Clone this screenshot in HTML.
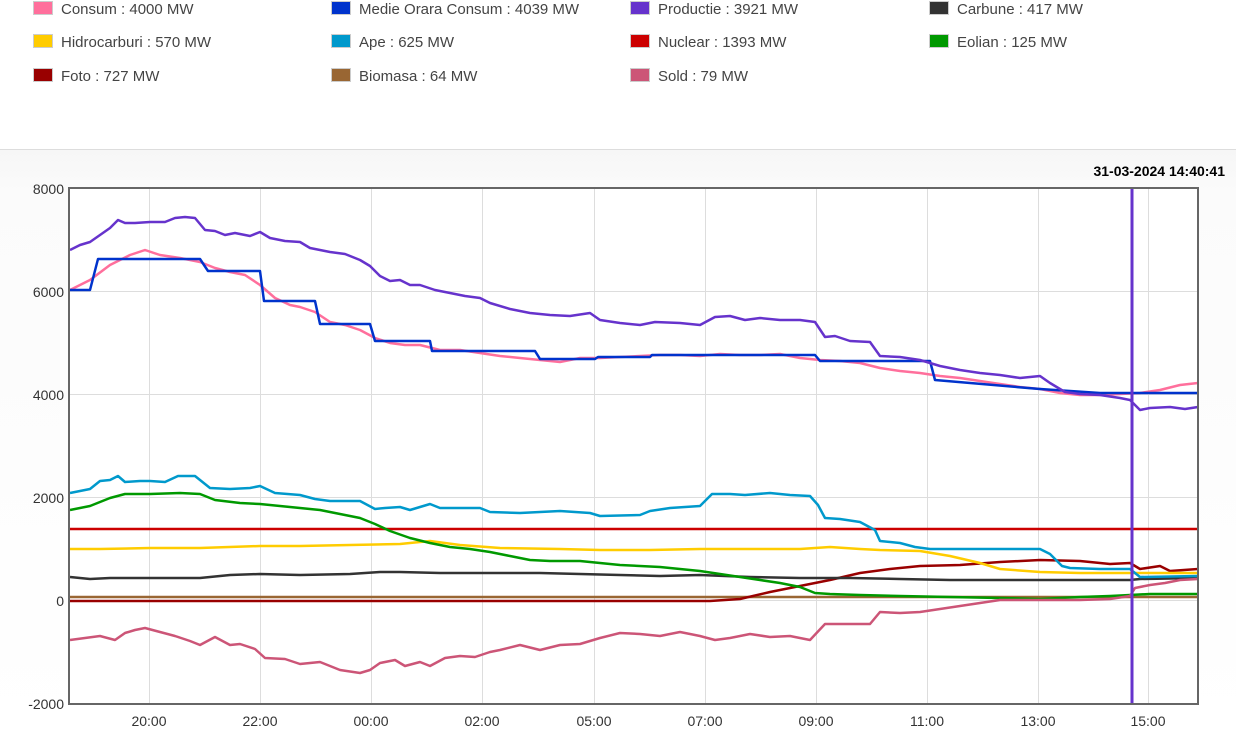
<!DOCTYPE html>
<html><head><meta charset="utf-8"><style>
body{margin:0;width:1236px;height:732px;overflow:hidden;background:#fff;font-family:"Liberation Sans",sans-serif;position:relative}
.lg{position:absolute;font-size:15px;color:#444;white-space:nowrap}
.lg i{display:inline-block;width:18px;height:12px;border:1px solid #ccc;vertical-align:-1px;margin-right:8px}
.panel{position:absolute;left:0;top:149px;width:1236px;height:583px;border-top:1px solid #ddd;background:linear-gradient(#f6f6f6,#fbfbfb 40px,#fff)}
</style></head><body>
<div class="lg" style="left:33px;top:1px"><i style="background:#ff6f9c"></i>Consum : 4000 MW</div>
<div class="lg" style="left:331px;top:1px"><i style="background:#0033cc"></i>Medie Orara Consum : 4039 MW</div>
<div class="lg" style="left:630px;top:1px"><i style="background:#6633cc"></i>Productie : 3921 MW</div>
<div class="lg" style="left:929px;top:1px"><i style="background:#333"></i>Carbune : 417 MW</div>
<div class="lg" style="left:33px;top:34px"><i style="background:#ffcc00"></i>Hidrocarburi : 570 MW</div>
<div class="lg" style="left:331px;top:34px"><i style="background:#0099cc"></i>Ape : 625 MW</div>
<div class="lg" style="left:630px;top:34px"><i style="background:#cc0000"></i>Nuclear : 1393 MW</div>
<div class="lg" style="left:929px;top:34px"><i style="background:#009900"></i>Eolian : 125 MW</div>
<div class="lg" style="left:33px;top:68px"><i style="background:#990000"></i>Foto : 727 MW</div>
<div class="lg" style="left:331px;top:68px"><i style="background:#996633"></i>Biomasa : 64 MW</div>
<div class="lg" style="left:630px;top:68px"><i style="background:#cc5577"></i>Sold : 79 MW</div>
<div class="panel"></div>
<svg style="position:absolute;left:0;top:0" width="1236" height="732" font-family="Liberation Sans,sans-serif">
<rect x="69" y="188" width="1129" height="516" fill="#fff"/>
<g stroke="#ddd" stroke-width="1">
<line x1="69" x2="1198" y1="291.5" y2="291.5"/><line x1="69" x2="1198" y1="394.5" y2="394.5"/><line x1="69" x2="1198" y1="497.5" y2="497.5"/><line x1="69" x2="1198" y1="600.5" y2="600.5"/>
<line x1="149.5" x2="149.5" y1="188" y2="704"/><line x1="260.5" x2="260.5" y1="188" y2="704"/><line x1="371.5" x2="371.5" y1="188" y2="704"/><line x1="482.5" x2="482.5" y1="188" y2="704"/><line x1="594.5" x2="594.5" y1="188" y2="704"/><line x1="705.5" x2="705.5" y1="188" y2="704"/><line x1="816.5" x2="816.5" y1="188" y2="704"/><line x1="927.5" x2="927.5" y1="188" y2="704"/><line x1="1038.5" x2="1038.5" y1="188" y2="704"/><line x1="1148.5" x2="1148.5" y1="188" y2="704"/>
</g>
<g font-size="14" fill="#333" text-anchor="end">
<text x="64" y="194">8000</text><text x="64" y="297">6000</text><text x="64" y="400">4000</text><text x="64" y="503">2000</text><text x="64" y="606">0</text><text x="64" y="709">-2000</text>
</g>
<g font-size="14" fill="#333" text-anchor="middle">
<text x="149" y="726">20:00</text><text x="260" y="726">22:00</text><text x="371" y="726">00:00</text><text x="482" y="726">02:00</text><text x="594" y="726">05:00</text><text x="705" y="726">07:00</text><text x="816" y="726">09:00</text><text x="927" y="726">11:00</text><text x="1038" y="726">13:00</text><text x="1148" y="726">15:00</text>
</g>
<text x="1225" y="176" font-size="14" font-weight="bold" text-anchor="end" fill="#000">31-03-2024 14:40:41</text>
<g fill="none" stroke-width="2.5" stroke-linejoin="round">
<polyline stroke="#cc0000" points="70,529 1198,529"/>
<polyline stroke="#996633" points="70,597 1198,597"/>
<polyline stroke="#990000" points="70,601 710,601 740,599 770,592 800,586 830,580 860,573 890,569 920,566 960,565 1000,562 1040,560 1080,561 1110,564 1130,563 1140,569 1160,566 1170,571 1198,569"/>
<polyline stroke="#333333" points="70,577 90,579 110,578 150,578 200,578 230,575 260,574 300,575 350,574 380,572 400,572 440,573 480,573 540,573 580,574 620,575 660,576 700,575 750,577 800,578 850,578 900,579 950,580 1000,580 1050,580 1100,580 1130,580 1140,579 1198,578"/>
<polyline stroke="#ffcc00" points="70,549 100,549 150,548 200,548 260,546 300,546 350,545 400,544 430,541 460,545 500,548 560,549 600,550 650,550 700,549 750,549 800,549 830,547 860,549 880,550 920,551 950,556 980,563 1000,569 1040,572 1080,573 1120,573 1198,573"/>
<polyline stroke="#009900" points="70,510 90,506 110,498 125,494 150,494 180,493 200,494 215,500 240,503 260,504 290,507 320,510 340,514 360,518 375,524 390,531 410,538 430,543 450,547 470,549 490,552 510,556 530,560 550,561 580,561 600,563 620,565 660,567 700,571 720,574 740,577 760,580 780,583 800,587 815,593 830,594 860,595 900,596 950,597 1000,598 1040,599 1080,597 1110,596 1130,595 1150,594 1198,594"/>
<polyline stroke="#0099cc" points="70,493 90,489 100,481 110,480 118,476 125,482 140,481 150,481 165,482 178,476 195,476 210,488 230,489 250,488 260,486 275,493 300,495 315,499 330,501 360,501 375,509 385,508 400,507 410,510 420,507 430,504 440,508 480,508 490,512 520,513 560,511 590,513 600,516 640,515 650,511 670,508 700,506 712,494 730,494 745,495 770,493 790,495 810,496 818,505 825,518 840,519 860,522 875,530 880,541 900,543 915,547 930,549 960,549 1000,549 1040,549 1050,554 1062,566 1070,568 1100,569 1130,569 1140,577 1198,576"/>
<polyline stroke="#cc5577" points="70,640 85,638 100,636 115,640 125,633 135,630 145,628 160,632 175,636 190,641 200,645 215,637 230,645 240,644 255,649 265,658 285,659 300,664 320,662 340,670 360,673 370,670 380,663 395,660 405,666 420,662 430,666 445,658 460,656 475,657 490,652 500,650 520,645 540,650 560,645 580,644 600,638 620,633 640,634 660,636 680,632 700,636 715,640 730,638 750,634 770,637 790,636 810,640 825,624 845,624 870,624 880,612 900,613 920,612 940,609 960,606 980,603 1000,600 1050,600 1080,600 1110,599 1130,596 1135,588 1150,585 1165,583 1180,580 1198,579"/>
<polyline stroke="#ff6f9c" points="70,290 90,280 110,265 130,255 145,250 160,255 180,258 200,262 215,268 230,272 245,275 260,285 275,298 290,305 300,307 315,312 330,322 345,325 360,330 375,338 390,343 405,345 420,345 440,350 460,350 480,353 500,356 520,358 540,360 560,362 580,358 600,358 620,357 640,356 660,355 680,355 700,356 720,354 740,355 760,355 780,354 800,358 820,360 840,361 860,363 880,368 900,371 920,373 940,376 960,378 980,381 1000,384 1020,387 1040,389 1060,393 1080,395 1100,395 1120,394 1140,393 1160,390 1180,385 1198,383"/>
<polyline stroke="#0033cc" points="70,290 90,290 98,259 200,259 208,271 260,271 264,301 315,301 320,324 370,324 375,341 430,341 432,351 535,351 540,359 595,359 598,357 650,357 652,355 815,355 820,361 930,361 935,380 1040,389 1100,393 1198,393"/>
<polyline stroke="#6633cc" points="70,250 80,245 90,242 100,235 110,228 118,220 125,223 135,223 150,222 165,222 175,218 185,217 195,218 205,230 215,231 225,235 235,233 250,236 260,232 270,238 285,241 300,242 310,248 320,250 330,252 345,254 360,260 370,266 380,276 390,281 400,280 410,285 420,285 435,290 450,293 465,296 480,298 490,303 510,309 530,313 550,315 570,316 590,313 600,320 620,323 640,325 655,322 680,323 700,325 715,317 730,316 745,320 760,318 780,320 800,320 815,322 825,337 835,336 850,341 870,342 880,356 900,357 920,360 940,366 960,370 980,373 1000,375 1020,378 1040,376 1050,383 1065,392 1080,394 1100,395 1120,398 1130,400 1140,410 1150,408 1170,407 1185,409 1198,407"/>
</g>
<line x1="1132" x2="1132" y1="188" y2="704" stroke="#6633cc" stroke-width="3"/>
<rect x="69" y="188" width="1129" height="516" fill="none" stroke="#666" stroke-width="2"/>
</svg>
</body></html>
